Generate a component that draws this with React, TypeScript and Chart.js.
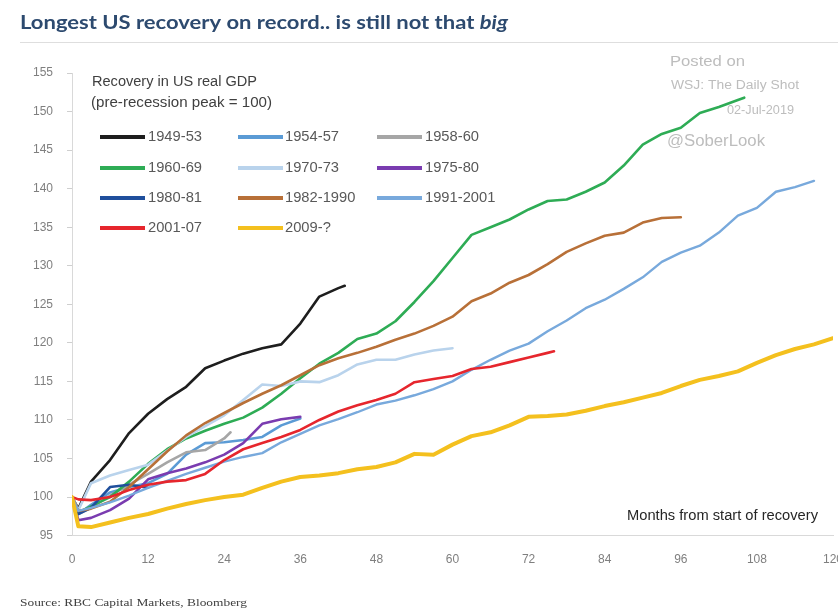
import React, { useEffect, useRef } from 'react';
import { Chart, registerables } from 'chart.js';

Chart.register(...registerables);

// Month positions: pre-recession peak (0), trough (1), then quarterly
const QUARTERS = [0, 1, 3, 6, 9, 12, 15, 18, 21, 24, 27, 30, 33, 36, 39, 42, 45, 48, 51, 54, 57, 60, 63, 66, 69, 72, 75, 78, 81, 84, 87, 90, 93, 96, 99, 102, 105, 108, 111, 114, 117, 120];

const LABELS = ['1949-53', '1954-57', '1958-60', '1960-69', '1970-73', '1975-80', '1980-81', '1982-1990', '1991-2001', '2001-07', '2009-?'];

const V1949 = [100, 98.5, 102, 104.8, 108.3, 110.8, 112.7, 114.3, 116.7, 117.7, 118.6, 119.3, 119.8, 122.5, 126, 127.1, 127.4];
const V1954 = [100, 97.8, 99, 100.6, 101.3, 101.8, 103, 105.5, 107, 107.1, 107.4, 107.8, 109.3, 110.2];
const V1958 = [100, 97.8, 98.6, 100.2, 101.6, 103, 104.5, 105.8, 106.1, 107.6, 108.4];
const V1960 = [100, 98, 98.8, 100, 102, 104.3, 106.2, 107.6, 108.6, 109.5, 110.3, 111.6, 113.4, 115.4, 117.3, 118.7, 120.5, 121.2, 122.8, 125.3, 128, 131, 134, 135, 136, 137.3, 138.4, 138.6, 139.6, 140.8, 143, 145.7, 147.1, 147.9, 149.8, 150.6, 151.5, 151.8];
const V1970 = [100, 98.3, 101.8, 102.8, 103.5, 104.2, 106, 107.8, 109.2, 110.6, 112.6, 114.6, 114.4, 115, 114.9, 115.8, 117.2, 117.8, 117.8, 118.5, 119, 119.3];
const V1975 = [100, 97, 97.3, 98.3, 99.8, 102.3, 103.1, 103.7, 104.5, 105.5, 107, 109.5, 110.1, 110.4];
const V1980 = [100, 97.8, 98.6, 101.3, 101.6, 101.2];
const V1982 = [100, 98.2, 98.5, 99.4, 101.3, 103.6, 105.9, 108, 109.6, 110.9, 112.2, 113.4, 114.5, 115.8, 117.1, 118, 118.7, 119.5, 120.4, 121.2, 122.2, 123.4, 125.4, 126.4, 127.8, 128.8, 130.2, 131.8, 132.9, 133.9, 134.3, 135.6, 136.2, 136.3];
const V1991 = [100, 98.2, 98.6, 99.3, 100.2, 101.2, 102.1, 103, 103.8, 104.6, 105.2, 105.7, 107.1, 108.2, 109.3, 110.1, 111, 112, 112.5, 113.2, 114, 115, 116.5, 117.8, 119, 119.9, 121.5, 122.9, 124.5, 125.6, 127, 128.5, 130.5, 131.7, 132.6, 134.3, 136.5, 137.5, 139.6, 140.2, 141];
const V2001 = [100, 99.7, 99.6, 100, 100.9, 101.6, 102, 102.2, 103, 104.8, 106.2, 107, 107.8, 108.7, 110, 111.1, 111.9, 112.6, 113.4, 114.9, 115.3, 115.7, 116.6, 116.9, 117.5, 118.1, 118.7, 118.9];
const V2009 = [100, 96.2, 96.1, 96.7, 97.3, 97.8, 98.5, 99.1, 99.6, 100, 100.3, 101.2, 102, 102.6, 102.8, 103.1, 103.6, 103.9, 104.5, 105.6, 105.5, 106.8, 107.9, 108.4, 109.3, 110.4, 110.5, 110.7, 111.2, 111.8, 112.3, 112.9, 113.5, 114.4, 115.2, 115.7, 116.3, 117.4, 118.4, 119.2, 119.8, 120.6];

// last observed month of each recovery (when it is not on the quarterly grid)
const END_MONTHS: (number | null)[] = [43, null, 25, 106, null, null, null, null, null, 76, null];

const VALUES = [V1949, V1954, V1958, V1960, V1970, V1975, V1980, V1982, V1991, V2001, V2009];
const COLORS = ['#1e1e1e', '#5b9bd5', '#a6a6a6', '#2eac55', '#b9d3ec', '#7a3cb0', '#1f4f9c', '#b87038', '#78a9dc', '#e6262d', '#f4c01e'];
const WIDTHS = [2.6, 2.6, 2.6, 2.6, 2.6, 2.6, 2.6, 2.6, 2.4, 2.6, 4];

const Y_TICKS = [95, 100, 105, 110, 115, 120, 125, 130, 135, 140, 145, 150, 155];
const X_TICKS = [0, 12, 24, 36, 48, 60, 72, 84, 96, 108, 120];

const W = 838;
const H = 616;

function fitText(ctx: CanvasRenderingContext2D, text: string, x: number, y: number, w: number, font: string, color: string) {
  ctx.save();
  ctx.font = font;
  ctx.fillStyle = color;
  ctx.textBaseline = 'middle';
  ctx.textAlign = 'left';
  const m = ctx.measureText(text).width;
  ctx.translate(x, y);
  ctx.scale(w / m, 1);
  ctx.fillText(text, 0, 0);
  ctx.restore();
}

const overlay = {
  id: 'overlay',
  beforeDatasetsDraw(chart: any) {
    const ctx: CanvasRenderingContext2D = chart.ctx;
    const wm = '#bdbdbd';
    fitText(ctx, 'Posted on', 670, 62, 75, "15px 'Liberation Sans'", wm);
    fitText(ctx, 'WSJ: The Daily Shot', 671, 86, 128, "12px 'Liberation Sans'", wm);
    fitText(ctx, '02-Jul-2019', 727, 111, 67, "12px 'Liberation Sans'", wm);
    fitText(ctx, '@SoberLook', 667, 142, 98, "16px 'Liberation Sans'", wm);
  },
  afterDraw(chart: any) {
    const ctx: CanvasRenderingContext2D = chart.ctx;
    // title
    ctx.save();
    const part1 = 'Longest US recovery on record.. is still not that ';
    const part2 = 'big';
    const f1 = "bold 19px Lato";
    const f2 = "italic bold 19px Lato";
    ctx.font = f1;
    const w1 = ctx.measureText(part1).width;
    ctx.font = f2;
    const w2 = ctx.measureText(part2).width;
    const sx = 488 / (w1 + w2);
    ctx.translate(20, 23);
    ctx.scale(sx, 1);
    ctx.textBaseline = 'middle';
    ctx.fillStyle = '#2d4a6f';
    ctx.font = f1;
    ctx.fillText(part1, 0, 0);
    ctx.font = f2;
    ctx.fillText(part2, w1, 0);
    ctx.restore();

    // separator under title
    ctx.save();
    ctx.strokeStyle = '#dedede';
    ctx.lineWidth = 1;
    ctx.beginPath();
    ctx.moveTo(20, 42.5);
    ctx.lineTo(W, 42.5);
    ctx.stroke();
    ctx.restore();

    // legend
    fitText(ctx, 'Recovery in US real GDP', 92, 82, 165, "14px 'Liberation Sans'", '#404040');
    fitText(ctx, '(pre-recession peak = 100)', 91, 103, 181, "14px 'Liberation Sans'", '#404040');
    const rows = [137, 168, 198, 228];
    const lineX = [100, 238, 377];
    const textX = [148, 285, 425];
    ctx.save();
    ctx.font = "14px 'Liberation Sans'";
    const ratio = 54 / ctx.measureText('1949-53').width;
    ctx.restore();
    LABELS.forEach((lab, i) => {
      const r = Math.floor(i / 3);
      const c = i % 3;
      const y = rows[r];
      ctx.save();
      ctx.strokeStyle = COLORS[i];
      ctx.lineWidth = 4;
      ctx.beginPath();
      ctx.moveTo(lineX[c], y);
      ctx.lineTo(lineX[c] + 45, y);
      ctx.stroke();
      ctx.font = "14px 'Liberation Sans'";
      ctx.fillStyle = '#595959';
      ctx.textBaseline = 'middle';
      ctx.translate(textX[c], y);
      ctx.scale(ratio, 1);
      ctx.fillText(lab, 0, 0);
      ctx.restore();
    });

    // axis caption
    fitText(ctx, 'Months from start of recovery', 627, 516, 191, "14px 'Liberation Sans'", '#262626');
    // source
    fitText(ctx, 'Source: RBC Capital Markets, Bloomberg', 20, 603, 227, "11px 'Liberation Serif'", '#404040');
  },
};

export default function App() {
  const ref = useRef<HTMLCanvasElement | null>(null);

  useEffect(() => {
    document.body.style.margin = '0';
    const canvas = ref.current;
    if (!canvas) return;
    const datasets = LABELS.map((label, i) => {
      const vals = VALUES[i];
      const xs = QUARTERS.slice(0, vals.length);
      const end = END_MONTHS[i];
      if (end !== null) xs[vals.length - 1] = end;
      return {
        label,
        data: vals.map((v, k) => ({ x: xs[k], y: v })),
        borderColor: COLORS[i],
        backgroundColor: COLORS[i],
        borderWidth: WIDTHS[i],
        pointRadius: 0,
        tension: 0,
        fill: false,
        borderJoinStyle: 'round' as const,
        borderCapStyle: 'round' as const,
        order: -i,
      };
    });

    const chart = new Chart(canvas, {
      type: 'line',
      data: { datasets },
      plugins: [overlay],
      options: {
        animation: false,
        responsive: false,
        devicePixelRatio: 1,
        layout: { padding: { top: 73, right: 5, left: 0, bottom: 0 } },
        plugins: {
          legend: { display: false },
          tooltip: { enabled: false },
          title: { display: false },
        },
        scales: {
          x: {
            type: 'linear',
            min: 0,
            max: 120,
            afterBuildTicks: (s: any) => {
              s.ticks = X_TICKS.map((v) => ({ value: v }));
            },
            afterFit: (s: any) => {
              s.height = H - 535.6;
              s.paddingLeft = 0;
              s.paddingRight = 0;
            },
            grid: { display: true, drawOnChartArea: false, drawTicks: false, color: '#d9d9d9' },
            border: { display: true, color: '#d9d9d9', width: 1 },
            ticks: {
              padding: 17,
              color: '#7f7f7f',
              font: { family: "'Liberation Sans'", size: 12 },
              maxRotation: 0,
              autoSkip: false,
            },
          },
          y: {
            min: 95,
            max: 155,
            afterBuildTicks: (s: any) => {
              s.ticks = Y_TICKS.map((v) => ({ value: v }));
            },
            afterFit: (s: any) => {
              s.width = 72;
              s.paddingTop = 0;
              s.paddingBottom = 0;
            },
            grid: { display: true, drawOnChartArea: false, drawTicks: true, tickLength: 5, color: '#cfcfcf' },
            border: { display: true, color: '#d9d9d9', width: 1 },
            ticks: {
              padding: 14,
              color: '#7f7f7f',
              font: { family: "'Liberation Sans'", size: 12 },
              autoSkip: false,
            },
          },
        },
      },
    });
    return () => chart.destroy();
  }, []);

  return (
    <div style={{ width: W, height: H, position: 'relative', background: '#fff' }}>
      <canvas ref={ref} width={W} height={H} style={{ display: 'block' }} />
    </div>
  );
}
